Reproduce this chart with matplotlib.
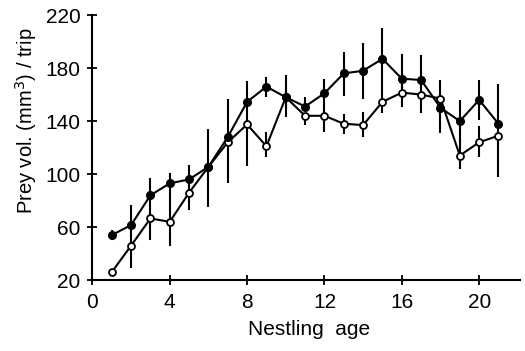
import numpy as np
import matplotlib
matplotlib.use("Agg")
from matplotlib import pyplot as plt

plt.rcParams['font.family'] = ['Liberation Sans', 'DejaVu Sans']

# nestling age (days)
age = list(range(1, 22))

# filled circles series
filled = [54, 61.5, 84, 93, 96, 105.5, 128, 154.5, 166, 158, 151, 161, 176, 178, 187, 172, 171, 150, 140, 156, 138]
filled_hi = [58, 77, 97, 101, 107, 134, 157, 170, 173, 175, 158, 172, 192, 199, 210, 191, 190, 171, 156, 171, 168]
filled_lo = [50, 55, 72, 80, 90, 100, 125, 140, 158, 150, 148, 150, 159, 157, 170, 165, 165, 150, 130, 141, 135]

# open circles series
opened = [26, 46, 66.5, 64, 86, 105.5, 124, 137.5, 121, 158, 144, 144, 138, 137, 154.5, 161.5, 160, 157, 114, 124, 129]
open_hi = [np.nan, 55, 72, 80, 92, 110, 128, 140, 132, 165, 146, 150, 145, 147, 170, 168, 165, 160, 130, 136, 135]
open_lo = [np.nan, 29, 50, 46, 73, 75, 93, 106, 113, 143, 137, 132, 130, 128, 146, 151, 146, 131, 104, 113, 98]

fig = plt.figure(figsize=(5.25, 3.51), dpi=100)
ax = fig.add_axes([0.176, 0.202, 0.814, 0.755])

ax.vlines(age, filled_lo, filled_hi, color="black", linewidth=1.5, zorder=1)
ax.vlines(age, open_lo, open_hi, color="black", linewidth=1.5, zorder=1)

ax.plot(age, opened, color="black", linewidth=1.5, marker="o", markersize=5,
        markerfacecolor="white", markeredgecolor="black", markeredgewidth=1.3, zorder=3)
ax.plot(age, filled, color="black", linewidth=1.5, marker="o", markersize=5.5,
        markerfacecolor="black", markeredgecolor="black", zorder=4)

ax.set_xlim(0, 22.1)
ax.set_ylim(20, 220)
ax.set_xticks([0, 4, 8, 12, 16, 20])
ax.set_yticks([20, 60, 100, 140, 180, 220])

for s in ["top", "right"]:
    ax.spines[s].set_visible(False)
for s in ["left", "bottom"]:
    ax.spines[s].set_linewidth(1.5)

ax.tick_params(direction="inout", length=7, width=1.3, labelsize=15)
ax.tick_params(axis="x", pad=6)
ax.tick_params(axis="y", pad=5)
ax.set_xlabel("Nestling  age", fontsize=15)
ax.set_ylabel("Prey vol. (mm$^3$) / trip", fontsize=14.5)
ax.xaxis.set_label_coords(0.506, -0.15)
ax.yaxis.set_label_coords(-0.125, 0.6)

plt.savefig("out.png", dpi=100)
